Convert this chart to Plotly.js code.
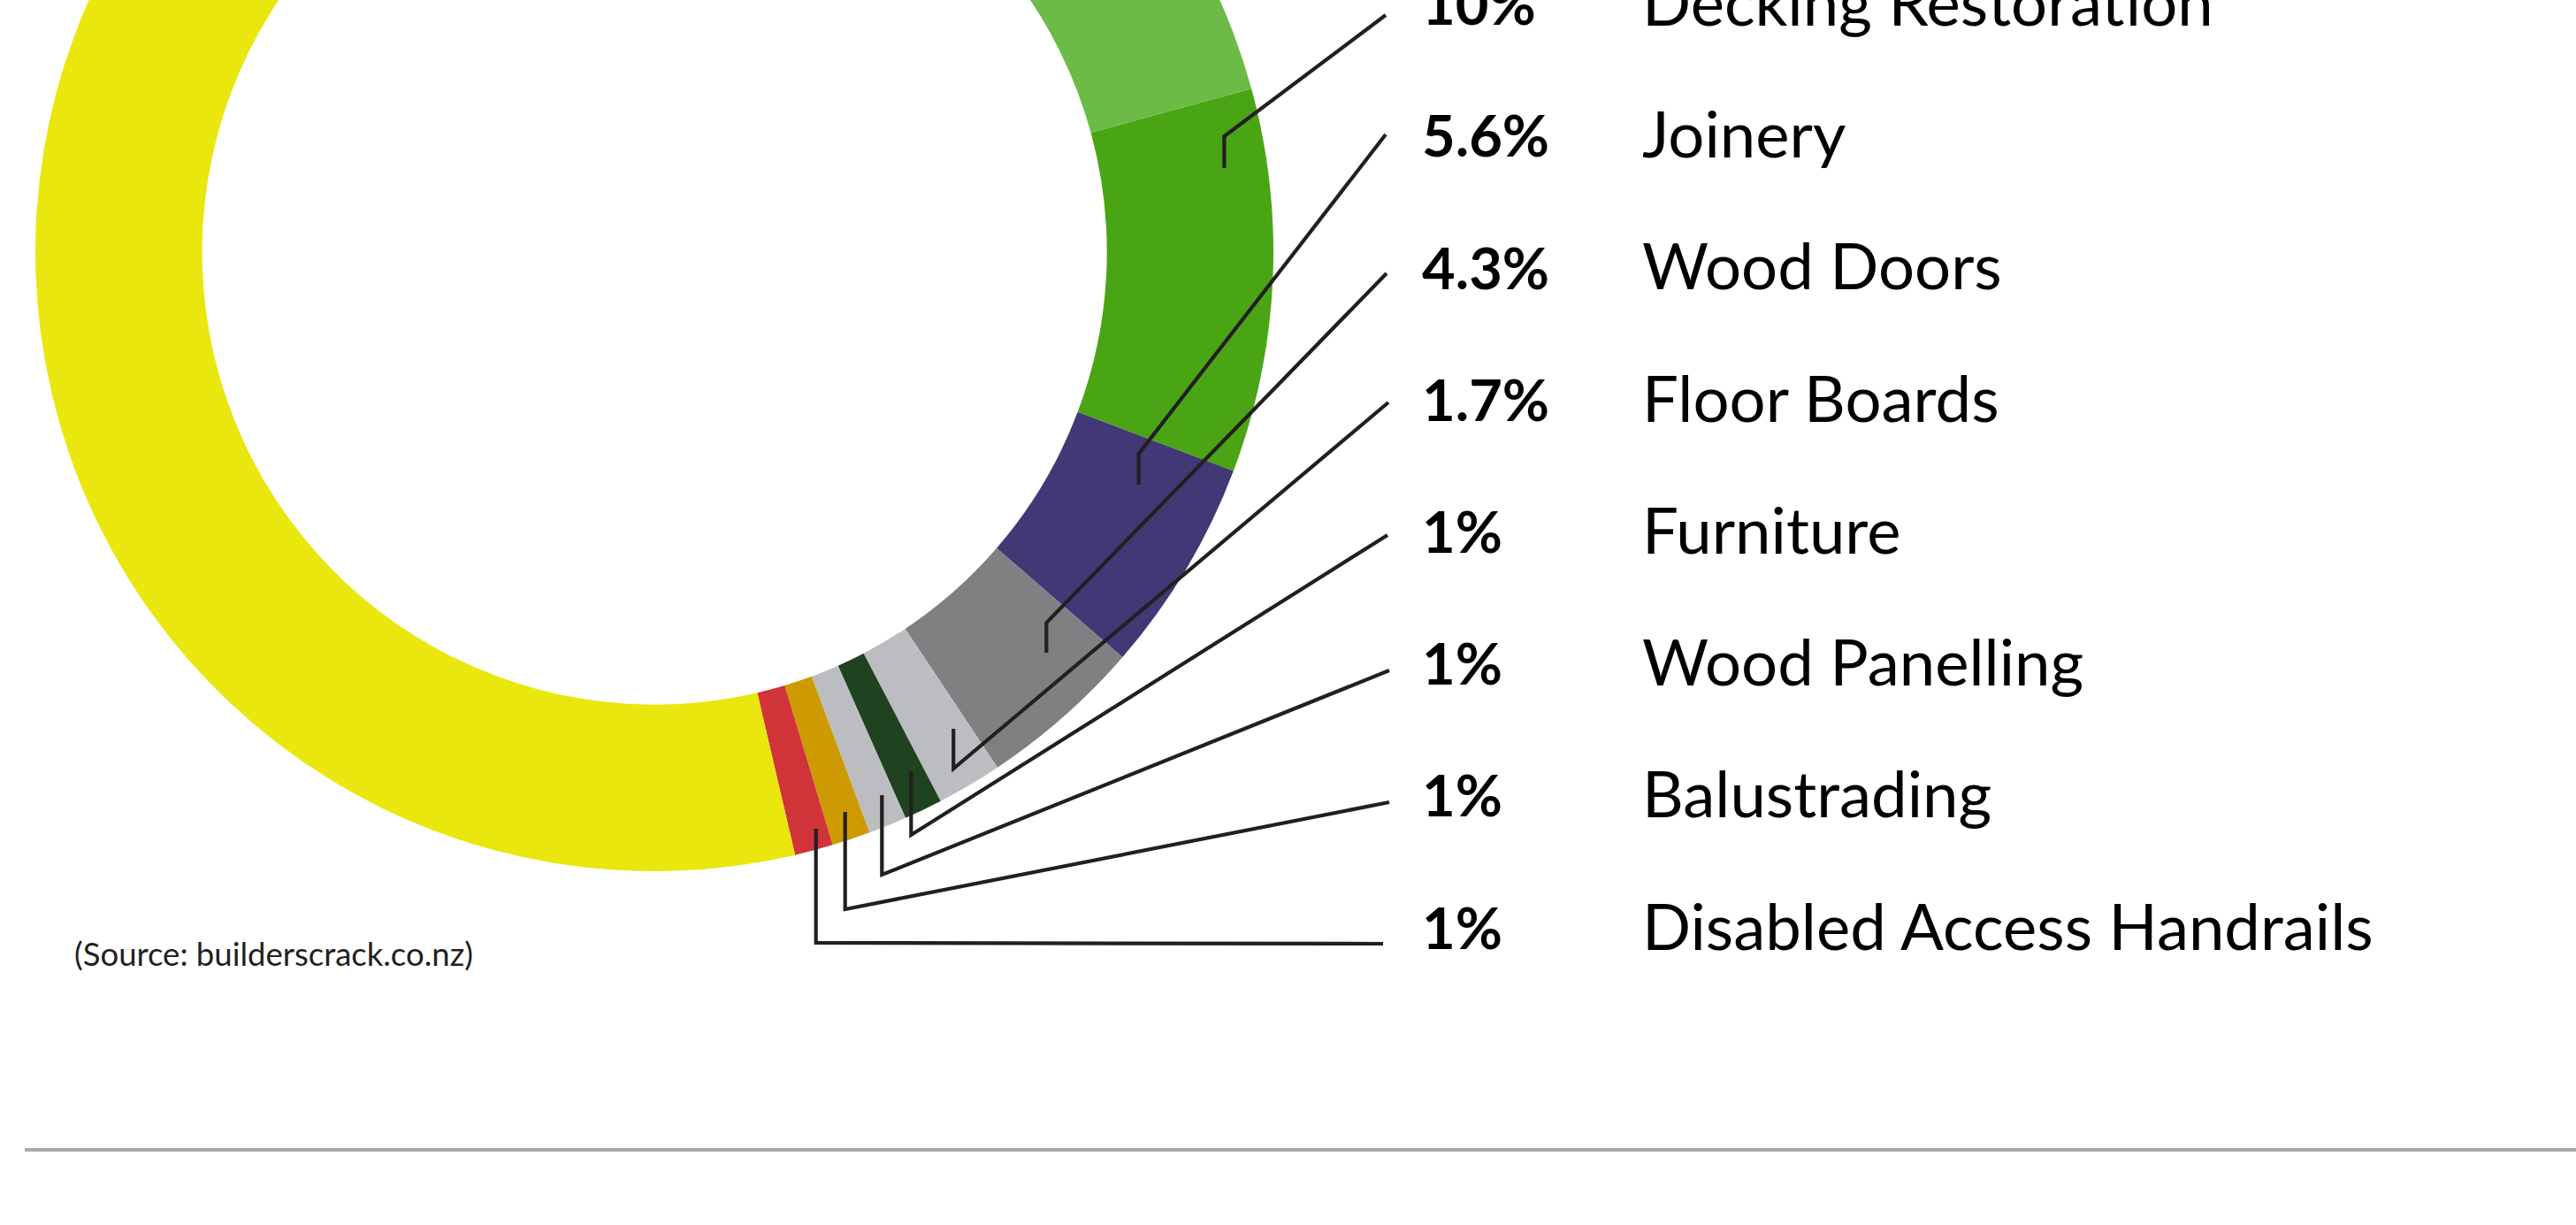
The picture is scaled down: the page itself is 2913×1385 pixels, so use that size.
<!DOCTYPE html>
<html>
<head>
<meta charset="utf-8">
<script src="https://cdn.plot.ly/plotly-3.0.1.min.js"></script>
<style>
  html, body { margin: 0; padding: 0; width: 2913px; height: 1385px; overflow: hidden; background: #ffffff; }
  #wrap { position: absolute; left: 0; top: 0; width: 2913px; height: 1385px; overflow: hidden; }
  #chart { position: absolute; left: 0; top: -450px; width: 2913px; height: 1835px; }
</style>
</head>
<body>
<div id="wrap"><div id="chart"></div></div>
<script>
// ---------------- DATA ----------------
// Slices in clockwise order, starting with Decking Restoration.
// The last two slices (yellow, light green) continue above the visible frame; their labels are cut off.
const categories = [
  "Decking Restoration", "Joinery", "Wood Doors", "Floor Boards",
  "Furniture", "Wood Panelling", "Balustrading", "Disabled Access Handrails",
  "Largest category (cut off)", "Second category (cut off)"
];
const shares = [10, 5.6, 4.3, 1.7, 1, 1, 1, 1, 50, 24.4];
const shareLabels = ["10%", "5.6%", "4.3%", "1.7%", "1%", "1%", "1%", "1%", "", ""];
const labelledCount = 8;
const sourceText = "(Source: builderscrack.co.nz)";

// ---------------- STYLE / LAYOUT ----------------
const sliceColors = ["#4aa515", "#433876", "#808082", "#bcbdc0", "#1f4221",
                     "#bcbdc0", "#ce9a02", "#d13438", "#eae70e", "#6bbb46"];
const W = 2913, H = 1835, T = 450;          // plot div is taller and shifted up (chart top is cropped)
const px = x => x / W;
const py = y => 1 - (y + T) / H;

// donut geometry in page pixels
const CX = 740, CY = 285, R = 700, HOLE = 0.731;

// label rows (baseline y of each text row) and leader lines (page px)
const rowBaselines = [28, 177, 327, 476, 625, 774, 923, 1073];
const pctX = 1606, nameX = 1855;
const leaders = [
  [[1384.4, 190], [1384.4, 154], [1567, 17]],
  [[1287.7, 548], [1287.7, 513], [1567, 152]],
  [[1183.3, 738], [1183.3, 704], [1568, 309]],
  [[1078.2, 824], [1078.2, 869], [1570, 455]],
  [[1030.3, 872], [1030.3, 944], [1569, 605]],
  [[997.3, 899], [997.3, 989], [1571, 758]],
  [[955.7, 918], [955.7, 1028], [1571, 907]],
  [[922.7, 937], [922.7, 1066], [1564, 1067]]
];

const trace = {
  type: "pie",
  labels: categories,
  values: shares,
  sort: false,
  direction: "clockwise",
  rotation: 74.7,
  hole: HOLE,
  textinfo: "none",
  hoverinfo: "label+percent",
  marker: { colors: sliceColors, line: { width: 0 } },
  domain: { x: [px(CX - R), px(CX + R)], y: [py(CY + R), py(CY - R)] },
  showlegend: false
};

const shapes = leaders.map(pts => ({
  type: "path",
  xref: "paper", yref: "paper",
  path: "M " + pts.map(p => px(p[0]) + "," + py(p[1])).join(" L "),
  line: { color: "#231f20", width: 4.2 }
}));
shapes.push({
  type: "line", xref: "paper", yref: "paper",
  x0: px(28), x1: px(2913), y0: py(1300), y1: py(1300),
  line: { color: "#a7a9ac", width: 4 }
});

const annotations = [];
for (let i = 0; i < labelledCount; i++) {
  annotations.push({
    xref: "paper", yref: "paper", x: px(pctX), y: py(rowBaselines[i] - 25),
    xanchor: "left", yanchor: "middle", showarrow: false,
    text: "<b>" + shareLabels[i] + "</b>",
    font: { family: "Lato, 'Open Sans', sans-serif", size: 65, color: "#000000" }
  });
  annotations.push({
    xref: "paper", yref: "paper", x: px(nameX), y: py(rowBaselines[i] - 28),
    xanchor: "left", yanchor: "middle", showarrow: false,
    text: categories[i],
    font: { family: "Lato, 'Open Sans', sans-serif", size: 72.5, color: "#000000" }
  });
}
annotations.push({
  xref: "paper", yref: "paper", x: px(82), y: py(1078),
  xanchor: "left", yanchor: "middle", showarrow: false,
  text: sourceText,
  font: { family: "Lato, 'Open Sans', sans-serif", size: 36.5, color: "#231f20" }
});

const layout = {
  width: W, height: H,
  margin: { l: 0, r: 0, t: 0, b: 0, pad: 0 },
  paper_bgcolor: "#ffffff",
  plot_bgcolor: "#ffffff",
  showlegend: false,
  shapes: shapes,
  annotations: annotations
};

Plotly.newPlot("chart", [trace], layout, { displayModeBar: false, staticPlot: true });
</script>
</body>
</html>
